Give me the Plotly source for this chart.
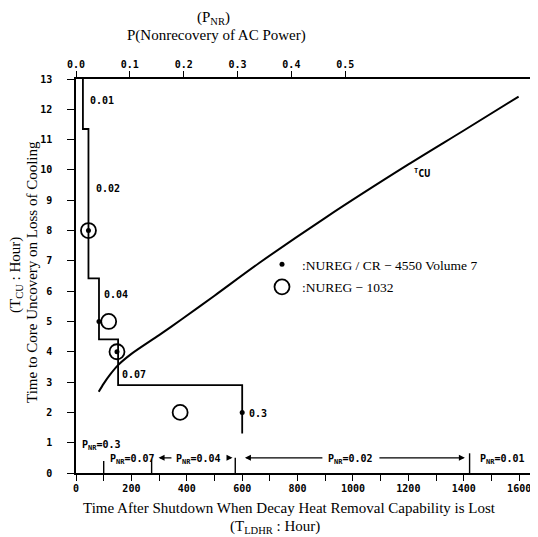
import plotly.graph_objects as go

# ---- data ----
# NUREG/CR-4550 step function (T_LDHR hours, T_CU hours)
step_T = [25, 25, 45, 45, 83, 83, 152, 152, 600, 600]
step_Y = [13, 11.35, 11.35, 6.42, 6.42, 4.41, 4.41, 2.9, 2.9, 1.3]
step_label_T = [45, 66, 94, 158, 619]
step_label_Y = [12.3, 9.4, 5.9, 3.25, 1.96]
step_label_text = ["0.01", "0.02", "0.04", "0.07", "0.3"]

# T_CU curve
tcu_T = [82, 100, 125, 152, 200, 300, 383, 500, 660, 900, 1200, 1400, 1598]
tcu_Y = [2.68, 2.95, 3.27, 3.56, 3.93, 4.55, 5.08, 5.85, 6.92, 8.42, 10.18, 11.3, 12.42]

# points
cr4550_T = [45, 83, 148, 600]
cr4550_Y = [8, 5, 4, 2]
nureg1032_T = [45, 118, 148, 376]
nureg1032_Y = [8, 5, 4, 2]

# P_NR regions along the time axis
pnr_bounds_T = [100, 273, 575, 1421]
pnr_bounds_H = [0.4, 0.45, 0.5, 0.65]

x_ticks = list(range(0, 1601, 100))
x_ticklabels = [str(v) if v % 200 == 0 else "" for v in x_ticks]
y_ticks = list(range(0, 14))
p_ticks = [0.0, 0.1, 0.2, 0.3, 0.4, 0.5]
p_ticklabels = ["0.0", "0.1", "0.2", "0.3", "0.4", "0.5"]

# ---- figure ----
# page has an 8px body margin; the figure is offset by it
OFF = 8
PAGE_W, PAGE_H = 538, 537
W, H = PAGE_W - OFF, PAGE_H - OFF
PLOT_L, PLOT_R, PLOT_T, PLOT_B = 76, 538, 79, 473   # plot area in page pixels
L = PLOT_L - OFF
T = PLOT_T - OFF
R = PAGE_W - PLOT_R
B = (OFF + H) - PLOT_B
XMAX = 1668
PMAX = 0.858

mono = dict(family="DejaVu Sans Mono", size=10, color="black", weight="bold")
serif = dict(family="Liberation Serif", size=15, color="black")
legend_font = dict(family="Liberation Serif", size=13.5, color="black")

fig = go.Figure()

fig.add_trace(go.Scatter(x=step_T, y=step_Y, mode="lines",
                         line=dict(color="black", width=1.8),
                         showlegend=False, hoverinfo="skip"))
fig.add_trace(go.Scatter(x=tcu_T, y=tcu_Y, mode="lines",
                         line=dict(color="black", width=2, shape="spline", smoothing=0.8),
                         showlegend=False, hoverinfo="skip"))
# boundary bars
for t, h in zip(pnr_bounds_T, pnr_bounds_H):
    fig.add_trace(go.Scatter(x=[t, t], y=[0, h], mode="lines",
                             line=dict(color="black", width=1.4),
                             showlegend=False, hoverinfo="skip"))

fig.add_trace(go.Scatter(x=nureg1032_T, y=nureg1032_Y, mode="markers",
                         marker=dict(symbol="circle-open", size=15, color="black",
                                     line=dict(width=1.8, color="black")),
                         name=":NUREG − 1032", legendrank=2, legendgroup="b"))
fig.add_trace(go.Scatter(x=cr4550_T, y=cr4550_Y, mode="markers",
                         marker=dict(symbol="circle", size=5, color="black"),
                         name=":NUREG / CR − 4550 Volume 7", legendrank=1, legendgroup="a"))

# invisible anchor for top axis
fig.add_trace(go.Scatter(x=p_ticks, y=[13] * len(p_ticks), xaxis="x2", mode="markers",
                         marker=dict(opacity=0), showlegend=False, hoverinfo="skip"))

annotations = []
for t, y, s in zip(step_label_T, step_label_Y, step_label_text):
    annotations.append(dict(x=t, y=y, xref="x", yref="y", text=s, showarrow=False,
                            xanchor="left", yanchor="middle", font=mono))

annotations.append(dict(x=1212, y=9.9, xref="x", yref="y", text="<sup>T</sup>CU",
                        showarrow=False, xanchor="left", yanchor="middle", font=mono))

pnr_labels = [(14, 0.92, "P<sub>NR</sub>=0.3"),
              (115, 0.46, "P<sub>NR</sub>=0.07"),
              (355, 0.46, "P<sub>NR</sub>=0.04"),
              (904, 0.46, "P<sub>NR</sub>=0.02"),
              (1450, 0.46, "P<sub>NR</sub>=0.01")]
for t, y, s in pnr_labels:
    annotations.append(dict(x=t, y=y, xref="x", yref="y", text=s, showarrow=False,
                            xanchor="left", yanchor="middle", font=mono))

arrows = [(298, 350), (565, 540), (610, 895), (1404, 1090)]
for head, tail in arrows:
    annotations.append(dict(x=head, y=0.5, ax=tail, ay=0.5, xref="x", yref="y",
                            axref="x", ayref="y", text="", showarrow=True,
                            arrowhead=2, arrowsize=1, arrowwidth=1.2, arrowcolor="black"))

def px2paper_x(px):
    return (px - PLOT_L) / (PLOT_R - PLOT_L)

def px2paper_y(py):
    return (PLOT_B - py) / (PLOT_B - PLOT_T)

titles = [
    (213, 18, "(P<sub>NR</sub>)", 0),
    (216, 36, "P(Nonrecovery of AC Power)", 0),
    (289, 508, "Time After Shutdown When Decay Heat Removal Capability is Lost", 0),
    (275, 527, "(T<sub>LDHR</sub> : Hour)", 0),
    (32, 272, "Time to Core Uncovery on Loss of Cooling", -90),
    (16, 275, "(T<sub>CU</sub> : Hour)", -90),
]
for px, py, s, ang in titles:
    annotations.append(dict(x=px2paper_x(px), y=px2paper_y(py), xref="paper", yref="paper",
                            text=s, textangle=ang, showarrow=False, font=serif,
                            xanchor="center", yanchor="middle"))

fig.update_layout(
    width=W, height=H,
    margin=dict(l=L, r=R, t=T, b=B, pad=0, autoexpand=False),
    paper_bgcolor="white", plot_bgcolor="white",
    annotations=annotations,
    showlegend=True,
    legend=dict(x=px2paper_x(262), y=px2paper_y(249), xanchor="left", yanchor="top",
                bgcolor="rgba(0,0,0,0)", font=legend_font, itemwidth=30,
                tracegroupgap=2, traceorder="grouped"),
    xaxis=dict(range=[0, XMAX], tickvals=x_ticks, ticktext=x_ticklabels,
               automargin=False,
               showgrid=False, zeroline=False, showline=True, linecolor="black",
               linewidth=1.6, ticks="outside", ticklen=6, tickwidth=1.4,
               tickcolor="black", tickfont=mono, ticklabelstandoff=-1),
    xaxis2=dict(range=[0, PMAX], overlaying="x", side="top", anchor="y",
                automargin=False,
                tickvals=p_ticks, ticktext=p_ticklabels,
                showgrid=False, zeroline=False, showline=True, linecolor="black",
                linewidth=1.6, ticks="outside", ticklen=6, tickwidth=1.4,
                tickcolor="black", tickfont=mono, ticklabelstandoff=-1),
    yaxis=dict(range=[0, 13], tickvals=y_ticks, showgrid=False, zeroline=False,
               automargin=False,
               showline=True, linecolor="black", linewidth=1.6, ticks="outside",
               ticklen=7, tickwidth=1.4, tickcolor="black", tickfont=mono,
               ticklabelstandoff=13),
)

fig.write_html("out.html")
